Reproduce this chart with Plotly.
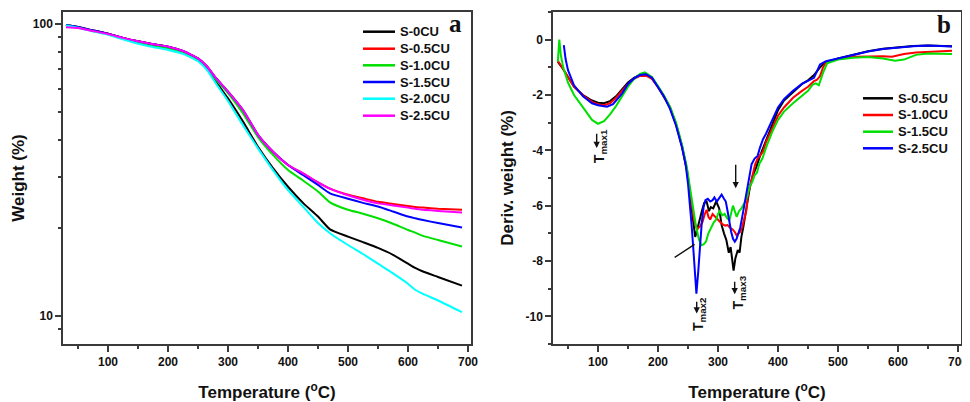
import plotly.graph_objects as go

# ---------------- Panel a: TGA (log weight) ----------------
tga_names = ["S-0CU", "S-0.5CU", "S-1.0CU", "S-1.5CU", "S-2.0CU", "S-2.5CU"]
tga_colors = ["#000000", "#ff0000", "#00e000", "#0000ff", "#00ffff", "#ff00ff"]
tga_T = [30, 50, 75, 100, 125, 150, 175, 200, 225, 250, 265, 280, 300, 325, 350, 375,
         400, 425, 450, 470, 500, 525, 550, 575, 600, 612, 625, 650, 690]
w_s0 = [99.2, 97.6, 95.0, 92.6, 89.6, 87.2, 85.2, 83.6, 80.6, 75.8, 70.8, 63.5, 55.6, 46.3, 38.0, 32.1,
        27.7, 24.4, 21.9, 19.8, 18.7, 17.9, 17.1, 16.2, 15.1, 14.6, 14.2, 13.6, 12.7]
w_s05 = [99.2, 97.6, 95.0, 92.6, 89.6, 87.2, 85.2, 83.6, 80.8, 76.2, 71.5, 65.2, 58.7, 50.7, 41.7, 36.5,
         32.9, 30.8, 28.7, 27.3, 26.0, 25.3, 24.6, 24.2, 23.8, 23.6, 23.5, 23.3, 23.1]
w_s10 = [99.2, 97.4, 94.6, 92.2, 89.0, 86.2, 84.2, 82.6, 80.0, 75.5, 70.8, 64.5, 58.0, 49.4, 41.0, 35.6,
         31.6, 29.1, 26.7, 24.5, 23.1, 22.4, 21.6, 20.7, 19.7, 19.3, 18.8, 18.2, 17.3]
w_s15 = [99.2, 97.6, 95.0, 92.6, 89.6, 87.2, 85.2, 83.6, 80.8, 76.2, 71.5, 65.2, 58.7, 50.7, 41.7, 36.5,
         32.9, 30.4, 28.1, 26.3, 25.2, 24.4, 23.7, 22.8, 21.9, 21.6, 21.3, 20.8, 20.1]
w_s20 = [98.8, 97.0, 94.3, 91.8, 88.6, 85.6, 83.4, 81.5, 79.0, 74.5, 69.5, 62.5, 54.5, 45.0, 37.5, 31.6,
         27.0, 23.7, 20.8, 19.2, 17.5, 16.3, 15.1, 14.0, 12.9, 12.3, 11.9, 11.3, 10.3]
w_s25 = [97.4, 96.8, 94.6, 92.4, 89.6, 87.2, 85.2, 83.6, 80.8, 76.2, 71.5, 65.2, 58.7, 50.7, 41.7, 36.5,
         32.9, 30.8, 28.7, 27.3, 25.9, 25.0, 24.3, 23.9, 23.5, 23.3, 23.1, 22.9, 22.6]
tga_series = [w_s0, w_s05, w_s10, w_s15, w_s20, w_s25]

# ---------------- Panel b: DTG ----------------
dtg_names = ["S-0.5CU", "S-1.0CU", "S-1.5CU", "S-2.5CU"]
dtg_colors = ["#000000", "#ff0000", "#00e000", "#0000ff"]

d05_T = [33, 40, 50, 60, 75, 90, 100, 110, 120, 130, 140, 150, 160, 170, 180, 190, 200, 210, 220, 230,
         240, 248, 252, 256, 259, 262, 265, 269, 273, 277, 281, 285, 288, 292, 297, 302, 306, 310, 314,
         318, 321, 324, 326, 329, 333, 336, 339, 342, 345, 349, 353, 358, 364, 370, 375, 380, 390, 400,
         410, 425, 440, 450, 460, 470, 480, 500, 525, 550, 575, 600, 625, 650, 690]
d05_v = [-0.8, -1.0, -1.35, -1.7, -2.0, -2.2, -2.28, -2.3, -2.22, -2.05, -1.8, -1.55, -1.38, -1.27, -1.25,
         -1.4, -1.7, -2.05, -2.45, -3.05, -3.85, -4.7, -5.3, -6.1, -6.7, -7.13, -6.9, -6.5, -6.2, -5.9,
         -5.85, -6.2, -6.05, -6.1, -5.85, -6.1, -6.7, -7.0, -7.25, -7.7, -7.5, -8.0, -8.35, -7.9, -7.6,
         -7.7, -7.13, -6.8, -6.4, -5.9, -5.35, -4.9, -4.6, -4.2, -3.93, -3.6, -3.1, -2.55, -2.2, -1.9,
         -1.6, -1.47, -1.28, -1.0, -0.8, -0.68, -0.54, -0.42, -0.33, -0.27, -0.23, -0.21, -0.24]

d10_T = [33, 40, 50, 60, 75, 90, 100, 110, 120, 130, 140, 150, 160, 170, 180, 190, 200, 210, 220, 230,
         240, 248, 252, 256, 260, 263, 266, 270, 274, 278, 281, 284, 287, 291, 295, 300, 304, 308, 312,
         316, 320, 324, 328, 331, 334, 337, 340, 344, 347, 350, 354, 358, 362, 366, 370, 375, 380, 390,
         400, 410, 425, 440, 450, 460, 465, 470, 475, 480, 500, 525, 550, 575, 590, 610, 630, 650, 690]
d10_v = [-0.75, -1.0, -1.35, -1.7, -2.02, -2.25, -2.33, -2.37, -2.3, -2.1, -1.85, -1.6, -1.42, -1.31,
         -1.3, -1.42, -1.72, -2.05, -2.45, -3.05, -3.85, -4.7, -5.3, -6.0, -6.5, -6.75, -6.83, -6.75,
         -6.6, -6.3, -6.15, -6.4, -6.5, -6.3, -6.4, -6.5, -6.6, -6.68, -6.72, -6.7, -6.8, -6.85, -6.95,
         -7.07, -7.0, -6.95, -6.8, -6.5, -6.2, -5.6, -5.2, -4.85, -4.5, -4.3, -4.2, -4.05, -3.7, -3.2,
         -2.75, -2.45, -2.1, -1.85, -1.7, -1.5, -1.45, -1.32, -1.0, -0.82, -0.7, -0.62, -0.6, -0.6,
         -0.62, -0.52, -0.46, -0.44, -0.4]

d15_T = [33, 35.5, 38, 42, 50, 60, 75, 90, 100, 110, 120, 130, 140, 150, 160, 170, 178, 190, 200, 210,
         220, 230, 240, 248, 253, 258, 263, 268, 272, 276, 280, 284, 289, 293, 297, 300, 303, 307, 311,
         315, 319, 322, 325, 328, 331, 335, 339, 344, 348, 353, 357, 361, 365, 369, 374, 380, 390, 400,
         410, 425, 440, 450, 458, 463, 468, 475, 482, 500, 525, 550, 575, 595, 610, 630, 650, 690]
d15_v = [-0.8, 0.0, -0.55, -1.0, -1.55, -2.0, -2.45, -2.9, -3.04, -2.95, -2.7, -2.4, -2.05, -1.7,
         -1.42, -1.24, -1.18, -1.35, -1.68, -2.02, -2.42, -3.0, -3.8, -4.6, -5.3, -6.0, -6.7, -7.2,
         -7.43, -7.4, -7.3, -7.0, -6.77, -6.6, -6.5, -6.3, -6.2, -6.35, -6.3, -6.45, -6.53, -6.3, -6.0,
         -6.2, -6.4, -6.2, -6.1, -5.9, -5.7, -5.3, -5.15, -4.9, -4.8, -4.48, -4.3, -3.9, -3.35, -2.9,
         -2.6, -2.3, -2.05, -1.85, -1.62, -1.58, -1.65, -1.2, -0.85, -0.72, -0.65, -0.63, -0.68, -0.76,
         -0.72, -0.55, -0.5, -0.52]

d25_T = [43, 46, 50, 60, 75, 90, 100, 115, 125, 140, 150, 160, 170, 180, 190, 200, 210, 220, 230, 240,
         246, 250, 253, 256, 259, 262, 264, 267, 270, 273, 276, 279, 283, 287, 291, 294, 298, 302, 306,
         310, 313, 316, 319, 322, 325, 328, 331, 334, 337, 340, 344, 348, 352, 356, 361, 366, 370, 375,
         380, 390, 400, 410, 425, 440, 450, 460, 470, 480, 500, 525, 550, 575, 600, 625, 650, 690]
d25_v = [-0.2, -0.7, -1.1, -1.65, -2.05, -2.3, -2.37, -2.42, -2.33, -1.95, -1.6, -1.4, -1.28, -1.25,
         -1.38, -1.7, -2.05, -2.5, -3.1, -3.9, -4.5, -5.2, -5.9, -6.7, -7.6, -8.6, -9.18, -8.4, -7.3,
         -6.6, -6.05, -5.8, -5.75, -5.85, -5.8, -5.7, -5.85, -5.7, -5.6, -5.75, -5.85, -6.2, -6.6, -6.95,
         -7.2, -7.3, -7.2, -7.0, -6.8, -6.45, -5.95, -5.6, -5.0, -4.5, -4.3, -4.2, -3.9, -3.6, -3.4,
         -2.9, -2.45, -2.15, -1.85, -1.6, -1.5, -1.38, -0.9, -0.78, -0.68, -0.55, -0.43, -0.34, -0.28,
         -0.24, -0.21, -0.25]

dtg_T = [d05_T, d10_T, d15_T, d25_T]
dtg_series = [d05_v, d10_v, d15_v, d25_v]

x_ticks = [100, 200, 300, 400, 500, 600, 700]
ya_ticks = [10, 100]
ya_minor = [8, 9, 20, 30, 40, 50, 60, 70, 80, 90]
yb_ticks = [-10, -8, -6, -4, -2, 0]
yb_text = ["-10", "-8", "-6", "-4", "-2", "0"]

FONT = "Liberation Sans, Arial, sans-serif"
AXC = "#3a3a3a"

# page has an 8px body margin: figure is drawn from page pixel (8, 8)
OFF = 8
W, H = 970 - OFF, 402 - OFF


def px(x):
    return (x - OFF) / W


def py(y):
    return 1 - (y - OFF) / H


fig = go.Figure()
for name, col, w in zip(tga_names, tga_colors, tga_series):
    fig.add_trace(go.Scatter(x=tga_T, y=w, mode="lines", name=name,
                             line=dict(color=col, width=2, shape="spline", smoothing=0.5),
                             xaxis="x", yaxis="y", showlegend=False))
for name, col, T, v in zip(dtg_names, dtg_colors, dtg_T, dtg_series):
    fig.add_trace(go.Scatter(x=T, y=v, mode="lines", name=name, line=dict(color=col, width=2),
                             xaxis="x2", yaxis="y2", showlegend=False))

tickfont = dict(family=FONT, size=12, color="#111", weight="bold")
titlefont = dict(family=FONT, size=17, color="#111", weight="bold")

xcommon = dict(range=[25, 705], tickvals=x_ticks, ticks="outside", ticklen=6, tickwidth=1.5,
               tickcolor=AXC, showline=True, linecolor=AXC, linewidth=1.5, mirror=True,
               showgrid=False, zeroline=False, tickfont=tickfont, automargin=False,
               minor=dict(tickvals=[50, 150, 250, 350, 450, 550, 650], ticks="outside", ticklen=3,
                          tickwidth=1.5, tickcolor=AXC),
               title=dict(text="Temperature (<sup>o</sup>C)", font=titlefont, standoff=18))
ydom = [py(344), py(12)]

fig.update_layout(
    width=W, height=H, margin=dict(l=0, r=0, t=0, b=0),
    paper_bgcolor="white", plot_bgcolor="white",
    xaxis=dict(domain=[px(63), px(471)], anchor="y", **xcommon),
    yaxis=dict(domain=ydom, anchor="x", type="log", range=[0.904, 2.041],
               tickvals=ya_ticks, ticktext=["10", "100"], ticks="outside", ticklen=6, tickwidth=1.5,
               tickcolor=AXC, showline=True, linecolor=AXC, linewidth=1.5, mirror=True,
               showgrid=False, zeroline=False, tickfont=tickfont, automargin=False,
               minor=dict(tickvals=ya_minor, ticks="outside", ticklen=3, tickwidth=1.5, tickcolor=AXC),
               title=dict(text="Weight (%)", font=titlefont, standoff=4)),
    xaxis2=dict(domain=[px(553), px(961)], anchor="y2", **xcommon),
    yaxis2=dict(domain=ydom, anchor="x2", range=[-11, 1],
                tickvals=yb_ticks, ticktext=yb_text, ticks="outside", ticklen=6, tickwidth=1.5,
                tickcolor=AXC, showline=True, linecolor=AXC, linewidth=1.5, mirror=True,
                showgrid=False, zeroline=False, tickfont=tickfont, automargin=False,
                minor=dict(dtick=1, ticks="outside", ticklen=3, tickwidth=1.5, tickcolor=AXC),
                title=dict(text="Deriv. weight (%)", font=titlefont, standoff=8)),
    showlegend=False,
)

# legends drawn as line samples + labels
legfont = dict(family=FONT, size=13, color="#111", weight="bold")
leg_a_rows = [31.7, 48.7, 65.3, 82.0, 98.7, 115.7]
for name, col, yy in zip(tga_names, tga_colors, leg_a_rows):
    fig.add_shape(type="line", xref="paper", yref="paper", x0=px(363), x1=px(395), y0=py(yy), y1=py(yy),
                  line=dict(color=col, width=2.5))
    fig.add_annotation(text=name, x=px(398), y=py(yy), xref="paper", yref="paper", showarrow=False,
                       xanchor="left", yanchor="middle", font=legfont)
leg_b_rows = [98.3, 115.0, 131.7, 148.3]
for name, col, yy in zip(dtg_names, dtg_colors, leg_b_rows):
    fig.add_shape(type="line", xref="paper", yref="paper", x0=px(863), x1=px(893), y0=py(yy), y1=py(yy),
                  line=dict(color=col, width=2.5))
    fig.add_annotation(text=name, x=px(896), y=py(yy), xref="paper", yref="paper", showarrow=False,
                       xanchor="left", yanchor="middle", font=legfont)

serif = dict(family="Liberation Serif, Times New Roman, serif", size=25, color="#111", weight="bold")
fig.add_annotation(text="a", x=px(455), y=py(23), xref="paper", yref="paper",
                   showarrow=False, font=serif, xanchor="center", yanchor="middle")
fig.add_annotation(text="b", x=px(944), y=py(25), xref="paper", yref="paper",
                   showarrow=False, font=serif, xanchor="center", yanchor="middle")

# T_max labels (rotated) and arrows
lblfont = dict(family=FONT, size=14, color="#111", weight="bold")
for txt, tx, ty in [("T<sub>max1</sub>", 104.5, -3.86), ("T<sub>max2</sub>", 269.5, -9.93),
                    ("T<sub>max3</sub>", 334.5, -9.15)]:
    fig.add_annotation(text=txt, x=tx, y=ty, xref="x2", yref="y2", showarrow=False,
                       textangle=-90, font=lblfont)
for hx, hy, tx, ty in [(97.8, -3.92, 97.8, -3.35), (264.5, -9.9, 264.5, -9.42),
                       (327.8, -9.2, 327.8, -8.70), (329.5, -5.37, 329.5, -4.47)]:
    fig.add_annotation(x=hx, y=hy, ax=tx, ay=ty, xref="x2", yref="y2", axref="x2", ayref="y2",
                       text="", showarrow=True, arrowhead=2, arrowsize=0.9, arrowwidth=1.4,
                       arrowcolor="#111")
fig.add_shape(type="line", x0=227.8, y0=-7.87, x1=261, y1=-7.40, xref="x2", yref="y2",
              line=dict(color="#111", width=1.4))

fig.write_html("out.html")
